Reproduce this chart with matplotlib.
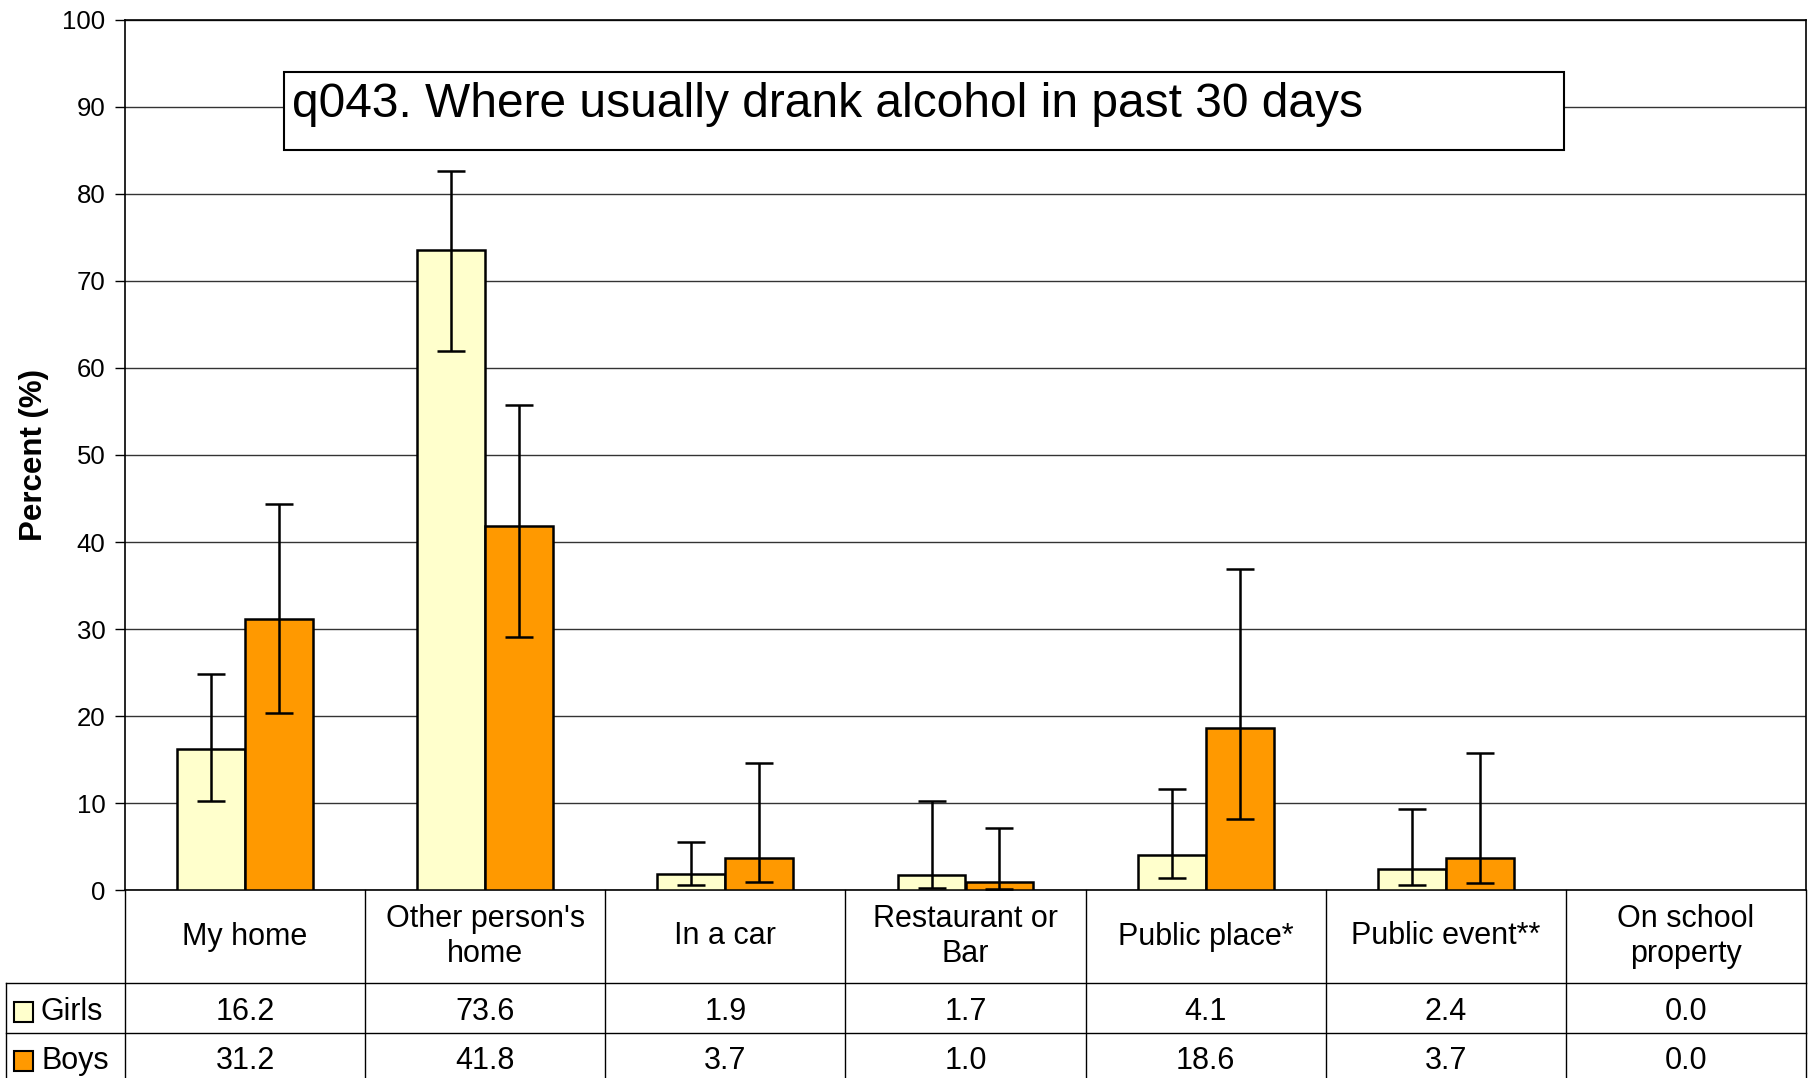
import matplotlib
matplotlib.use("Agg")
from matplotlib import pyplot as plt
from matplotlib.lines import Line2D
from matplotlib.patches import Rectangle
from matplotlib import transforms
import numpy as np

plt.rcParams['font.family'] = ['Liberation Sans', 'DejaVu Sans']

categories = ["My home", "Other person's\nhome", "In a car", "Restaurant or\nBar",
              "Public place*", "Public event**", "On school\nproperty"]
girls = [16.2, 73.6, 1.9, 1.7, 4.1, 2.4, 0.0]
boys = [31.2, 41.8, 3.7, 1.0, 18.6, 3.7, 0.0]
girls_lo = [10.2, 62.0, 0.6, 0.3, 1.4, 0.6, 0.0]
girls_hi = [24.9, 82.6, 5.5, 10.3, 11.6, 9.3, 0.0]
boys_lo = [20.4, 29.1, 0.9, 0.15, 8.2, 0.8, 0.0]
boys_hi = [44.4, 55.7, 14.6, 7.1, 36.9, 15.8, 0.0]
series = ["Girls", "Boys"]
colors = ["#FFFFCC", "#FF9900"]
note = "q043. Where usually drank alcohol in past 30 days"

W, H = 1813, 1078
fig = plt.figure(figsize=(W / 100, H / 100), dpi=100)

# pixel helpers (top-left origin)
def fx(px):
    return px / W

def fy(py):
    return 1 - py / H

ax_left, ax_right, ax_top, ax_bot = 125, 1806, 19.7, 890.3
ax = fig.add_axes([fx(ax_left), fy(ax_bot), fx(ax_right - ax_left), (ax_bot - ax_top) / H])

x = np.arange(len(categories))
bw = 0.283
g = np.array(girls)
b = np.array(boys)
g_err = [g - np.array(girls_lo), np.array(girls_hi) - g]
b_err = [b - np.array(boys_lo), np.array(boys_hi) - b]
has = g > 0

ax.bar((x - bw / 2)[has], g[has], bw, color=colors[0], edgecolor='black', linewidth=1.8, zorder=3)
ax.bar((x + bw / 2)[has], b[has], bw, color=colors[1], edgecolor='black', linewidth=1.8, zorder=3)
ax.errorbar((x - bw / 2)[has], g[has], yerr=[e[has] for e in g_err], fmt='none',
            ecolor='black', elinewidth=1.8, capsize=10, capthick=1.8, zorder=4)
ax.errorbar((x + bw / 2)[has], b[has], yerr=[e[has] for e in b_err], fmt='none',
            ecolor='black', elinewidth=1.8, capsize=10, capthick=1.8, zorder=4)

ax.set_xlim(-0.5, len(categories) - 0.5)
ax.set_ylim(0, 100)
ax.set_yticks(range(0, 101, 10))
ax.set_xticks([])
ax.tick_params(axis='y', labelsize=18.5, length=7, width=1, direction='out', pad=7)
ax.yaxis.grid(True, color='#333333', linewidth=1)
ax.set_axisbelow(True)
for s in ax.spines.values():
    s.set_linewidth(1.2)
ax.set_ylabel("Percent (%)", fontsize=22.5, fontweight='bold', labelpad=10)

# question box
fig.add_artist(Rectangle((fx(284), fy(150.3)), fx(1564.4 - 284), (150.3 - 71.7) / H,
                         transform=fig.transFigure, facecolor='white', edgecolor='black',
                         linewidth=1.5, zorder=5))
fig.text(fx(292), fy(117), note, fontsize=34.5, va='baseline', ha='left', zorder=6)

# data table under the chart
tr = transforms.blended_transform_factory(ax.transData, fig.transFigure)
yc_cat, yc_girls, yc_boys = 936.5, 1012, 1061
for i, c in enumerate(categories):
    fig.text(i, fy(yc_cat), c, transform=tr, ha='center', va='center',
             fontsize=22, linespacing=1.2)
    fig.text(i, fy(yc_girls), f"{girls[i]:.1f}", transform=tr, ha='center', va='center', fontsize=22)
    fig.text(i, fy(yc_boys), f"{boys[i]:.1f}", transform=tr, ha='center', va='center', fontsize=22)

for k in range(len(categories) + 1):
    fig.add_artist(Line2D([k - 0.5, k - 0.5], [fy(890.3), 0], transform=tr, color='black', lw=1))
for yy in (982.8, 1032.5):
    fig.add_artist(Line2D([fx(5.8), fx(ax_right)], [fy(yy), fy(yy)], transform=fig.transFigure,
                          color='black', lw=1))
fig.add_artist(Line2D([fx(5.8), fx(5.8)], [fy(982.8), 0], transform=fig.transFigure, color='black', lw=1))

for name, col, yc in zip(series, colors, (yc_girls, yc_boys)):
    fig.add_artist(Rectangle((fx(14), fy(yc + 10)), fx(19), 20 / H, transform=fig.transFigure,
                             facecolor=col, edgecolor='black', linewidth=1.5))
    fig.text(fx(41), fy(yc), name, ha='left', va='center', fontsize=22)

fig.savefig("out.png", dpi=100)
